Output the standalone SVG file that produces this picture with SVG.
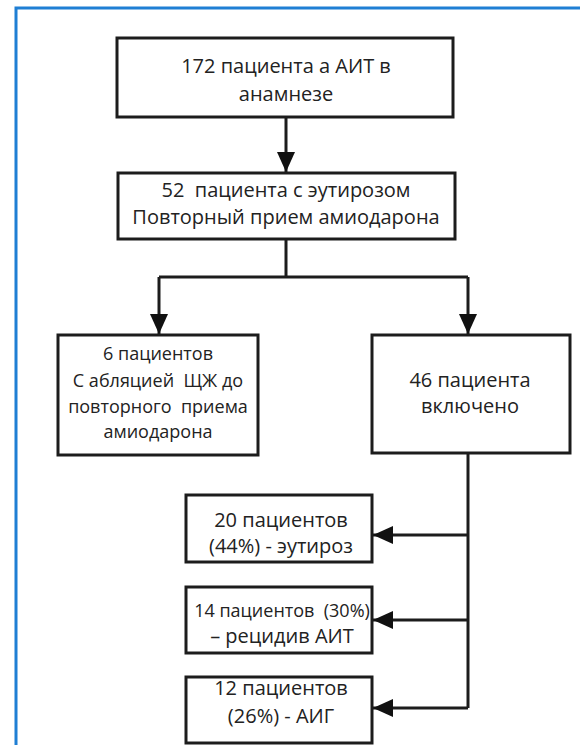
<svg xmlns="http://www.w3.org/2000/svg" width="580" height="745" viewBox="0 0 580 745">
<style>
.box{fill:#fff;stroke:#1c1c1c;stroke-width:3}
.t{font-family:"Open Sans","Noto Sans","DejaVu Sans",sans-serif;font-size:20px;fill:#222;text-anchor:middle}
.s{font-size:18px}
.c{fill:none;stroke:#1c1c1c;stroke-width:3}
</style>
<defs>
<marker id="ah" viewBox="0 0 20 18" refX="20" refY="9" markerWidth="20" markerHeight="18" markerUnits="userSpaceOnUse" orient="auto">
<path d="M0,0 L20,9 L0,18 Z" fill="#111"/>
</marker>
</defs>
<rect width="580" height="745" fill="#fff"/>
<path d="M16,745 V8 H580" fill="none" stroke="#1f7fd4" stroke-width="3"/>
<g id="connectors">
<path class="c" d="M286,117 V172" marker-end="url(#ah)"/>
<path class="c" d="M286,239 V277"/>
<path class="c" d="M159,277 H468"/>
<path class="c" d="M159,277 V334" marker-end="url(#ah)"/>
<path class="c" d="M468,277 V334" marker-end="url(#ah)"/>
<path class="c" d="M468,453 V708"/>
<path class="c" d="M468,535 H373" marker-end="url(#ah)"/>
<path class="c" d="M468,620 H373" marker-end="url(#ah)"/>
<path class="c" d="M468,708 H373" marker-end="url(#ah)"/>
</g>
<g id="n1">
<rect class="box" x="117" y="38" width="336" height="79"/>
<text class="t" x="286" y="73">172 пациента  а АИТ в</text>
<text class="t" x="286" y="101">анамнезе</text>
</g>
<g id="n2">
<rect class="box" x="118" y="173" width="337" height="66"/>
<text class="t" x="286" y="197" xml:space="preserve">52  пациента с эутирозом</text>
<text class="t" x="286" y="224">Повторный прием амиодарона</text>
</g>
<g id="n3">
<rect class="box" x="58" y="335" width="200" height="120"/>
<text class="t s" x="158" y="360">6 пациентов</text>
<text class="t s" x="158" y="387" xml:space="preserve">С абляцией  ЩЖ до</text>
<text class="t s" x="158" y="413" xml:space="preserve">повторного  приема</text>
<text class="t s" x="158" y="438">амиодарона</text>
</g>
<g id="n4">
<rect class="box" x="372" y="335" width="198" height="118"/>
<text class="t" x="470" y="387">46 пациента</text>
<text class="t" x="470" y="413">включено</text>
</g>
<g id="n5">
<rect class="box" x="186" y="495" width="186" height="67"/>
<text class="t" x="281" y="527">20 пациентов</text>
<text class="t" x="281" y="553">(44%) - эутироз</text>
</g>
<g id="n6">
<rect class="box" x="186" y="587" width="186" height="66"/>
<text class="t s" x="282" y="617" xml:space="preserve">14 пациентов  (30%)</text>
<text class="t" x="282" y="643">– рецидив АИТ</text>
</g>
<g id="n7">
<rect class="box" x="186" y="677" width="186" height="66"/>
<text class="t" x="281" y="695">12 пациентов</text>
<text class="t" x="281" y="723">(26%) - АИГ</text>
</g>
</svg>
